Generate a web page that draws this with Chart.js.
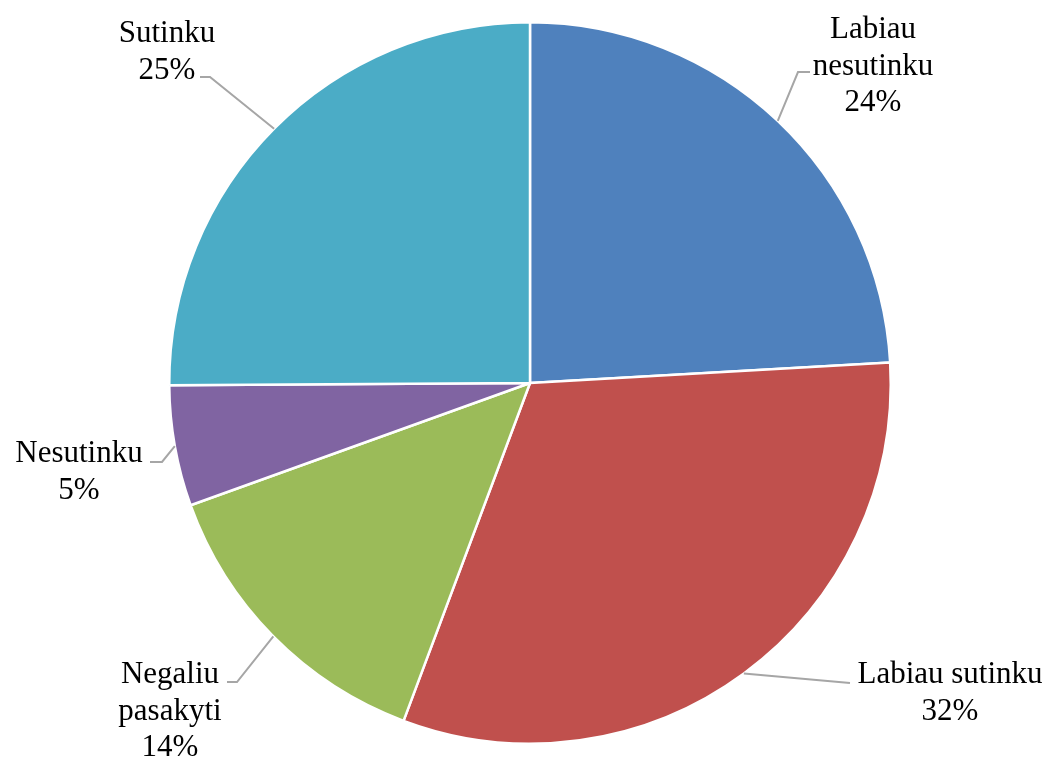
<!DOCTYPE html>
<html>
<head>
<meta charset="utf-8">
<script src="https://cdn.jsdelivr.net/npm/chart.js@4.4.1/dist/chart.umd.min.js"></script>
<style>
  html, body { margin: 0; padding: 0; background: #fff; }
</style>
</head>
<body>
<canvas id="grafika" width="1051" height="758"></canvas>
<script>
// kategorijos ir reikšmės (%)
const kategorijos = ['Labiau nesutinku', 'Labiau sutinku', 'Negaliu pasakyti', 'Nesutinku', 'Sutinku']
const reiksmes = [24.1, 31.6, 13.8, 5.4, 25.1]
// kaip užrašai laužomi į eilutes
const uzrasuEilutes = [['Labiau', 'nesutinku'], ['Labiau sutinku'], ['Negaliu', 'pasakyti'], ['Nesutinku'], ['Sutinku']]
const spalvos = ['#4F81BD', '#C0504D', '#9BBB59', '#8064A2', '#4BACC6']

// užrašų vietos: lūžio taškas, linijos galas, teksto centras ir pirmos eilutės bazinė linija
const uzrasuVietos = [
  { luzis: [798, 72], galas: [810, 72], cx: 873, y: 38 },
  { luzis: [850, 683], galas: [850, 683], cx: 950, y: 683 },
  { luzis: [237, 682], galas: [227, 682], cx: 170, y: 683 },
  { luzis: [162, 462], galas: [150, 462], cx: 79, y: 462 },
  { luzis: [210, 77], galas: [200, 77], cx: 167, y: 42 }
]

const suma = reiksmes.reduce((a, b) => a + b, 0)

// įskiepis užrašams su linijomis nupiešti
const uzrasai = {
  id: 'uzrasai',
  afterDraw(chart) {
    const ctx = chart.ctx
    const lankai = chart.getDatasetMeta(0).data
    ctx.save()
    lankai.forEach((lankas, i) => {
      const p = lankas.getProps(['x', 'y', 'startAngle', 'endAngle', 'outerRadius'], true)
      const vid = (p.startAngle + p.endAngle) / 2
      const sx = p.x + Math.cos(vid) * p.outerRadius
      const sy = p.y + Math.sin(vid) * p.outerRadius
      const v = uzrasuVietos[i]
      ctx.strokeStyle = '#A6A6A6'
      ctx.lineWidth = 2
      ctx.beginPath()
      ctx.moveTo(sx, sy)
      ctx.lineTo(v.luzis[0], v.luzis[1])
      ctx.lineTo(v.galas[0], v.galas[1])
      ctx.stroke()

      const eilutes = uzrasuEilutes[i].concat([Math.round(reiksmes[i] / suma * 100) + '%'])
      ctx.fillStyle = '#000'
      ctx.font = '31px "Liberation Serif", "Times New Roman", serif'
      ctx.textAlign = 'center'
      ctx.textBaseline = 'alphabetic'
      eilutes.forEach((t, j) => ctx.fillText(t, v.cx, v.y + j * 36.5))
    })
    ctx.restore()
  }
}

new Chart(document.getElementById('grafika'), {
  type: 'pie',
  data: {
    labels: kategorijos,
    datasets: [{
      data: reiksmes,
      backgroundColor: spalvos,
      borderColor: '#fff',
      borderWidth: 2.5
    }]
  },
  options: {
    responsive: false,
    animation: false,
    layout: { padding: { top: 21, bottom: 13, left: 168, right: 159 } },
    plugins: {
      legend: { display: false },
      tooltip: { enabled: false }
    }
  },
  plugins: [uzrasai]
})
</script>
</body>
</html>
